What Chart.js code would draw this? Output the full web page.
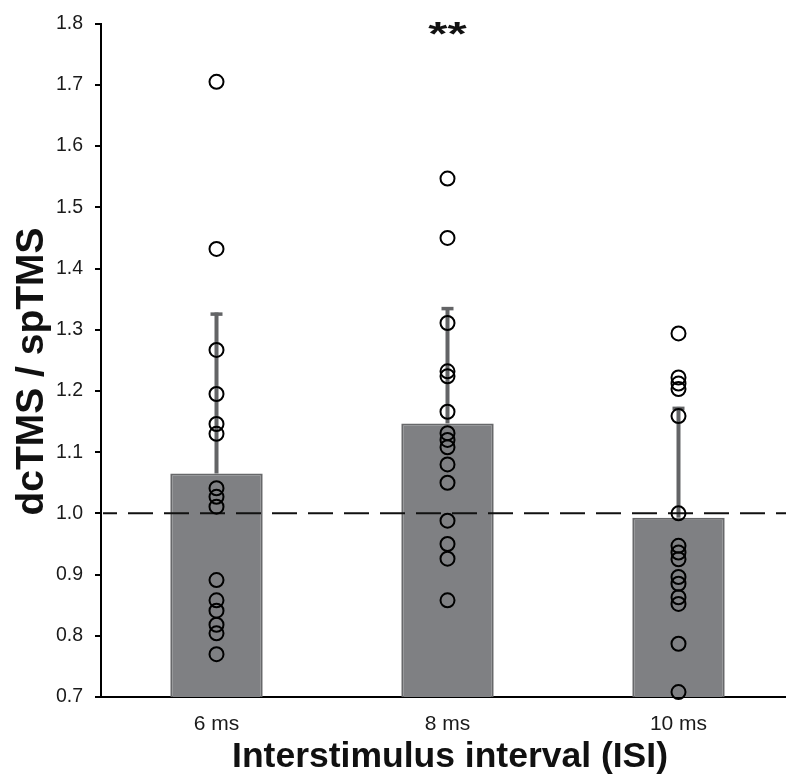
<!DOCTYPE html>
<html>
<head>
<meta charset="utf-8">
<script src="https://cdn.jsdelivr.net/npm/chart.js@4/dist/chart.umd.min.js"></script>
<style>
html,body{margin:0;padding:0;background:#fff;overflow:hidden;}
#wrap{width:794px;height:776px;}
</style>
</head>
<body>
<div id="wrap"><canvas id="c" width="794" height="776"></canvas></div>
<script>
// ---- data ----
const categories = ['6 ms', '8 ms', '10 ms'];
const means = [1.065, 1.147, 0.993];
const sdUpper = [0.263, 0.190, 0.181];
const points6 = [1.705, 1.432, 1.267, 1.195, 1.146, 1.130, 1.041, 1.027, 1.011, 0.891, 0.858, 0.841, 0.818, 0.804, 0.770];
const points8 = [1.547, 1.450, 1.311, 1.232, 1.224, 1.166, 1.131, 1.120, 1.108, 1.080, 1.050, 0.988, 0.950, 0.926, 0.858];
const points10 = [1.294, 1.222, 1.212, 1.203, 1.159, 1.000, 0.947, 0.936, 0.925, 0.896, 0.885, 0.863, 0.852, 0.787, 0.708];
const yTicks = [0.7, 0.8, 0.9, 1.0, 1.1, 1.2, 1.3, 1.4, 1.5, 1.6, 1.7, 1.8];
const referenceLine = 1.0;
const significance = '**';
const sigCategory = '8 ms';
const yTitle = 'dcTMS / spTMS';
const xTitle = 'Interstimulus interval (ISI)';

const scatterData = [];
[points6, points8, points10].forEach((arr, i) => {
  arr.forEach(v => scatterData.push({x: categories[i], y: v}));
});

const overlay = {
  id: 'overlay',
  afterDatasetDraw(chart, args) {
    if (args.index !== 0) return;
    const ctx = chart.ctx;
    const xs = chart.scales.x, ys = chart.scales.y;
    const ca = chart.chartArea;
    ctx.save();
    // error bars
    ctx.strokeStyle = '#636466';
    means.forEach((m, i) => {
      const x = xs.getPixelForValue(i);
      const y0 = ys.getPixelForValue(m);
      const y1 = ys.getPixelForValue(m + sdUpper[i]);
      ctx.lineWidth = 4;
      ctx.beginPath();
      ctx.moveTo(x, y0);
      ctx.lineTo(x, y1);
      ctx.stroke();
      ctx.lineWidth = 3.5;
      ctx.beginPath();
      ctx.moveTo(x - 6, y1 + 1.5);
      ctx.lineTo(x + 6, y1 + 1.5);
      ctx.stroke();
    });
    // dashed reference line
    const yr = ys.getPixelForValue(referenceLine);
    ctx.strokeStyle = '#111';
    ctx.lineWidth = 2;
    ctx.setLineDash([25, 11]);
    ctx.lineDashOffset = 11;
    ctx.beginPath();
    ctx.moveTo(ca.left + 2, yr);
    ctx.lineTo(chart.width, yr);
    ctx.stroke();
    ctx.restore();
  },
  afterDraw(chart) {
    const ctx = chart.ctx;
    const xs = chart.scales.x;
    ctx.save();
    ctx.fillStyle = '#111';
    ctx.textAlign = 'center';
    ctx.textBaseline = 'alphabetic';
    // significance
    ctx.save();
    ctx.translate(xs.getPixelForValue(categories.indexOf(sigCategory)), 45);
    ctx.scale(1.12, 0.74);
    ctx.font = 'bold 44px "Liberation Sans", Arial, sans-serif';
    ctx.fillText(significance, 0, 0);
    ctx.restore();
    // x title
    ctx.font = 'bold 35.5px "Liberation Sans", Arial, sans-serif';
    ctx.fillText(xTitle, 450, 767);
    // y title
    ctx.translate(42.5, 371.5);
    ctx.rotate(-Math.PI / 2);
    ctx.font = 'bold 39px "Liberation Sans", Arial, sans-serif';
    ctx.fillText(yTitle, 0, 0);
    ctx.restore();
  }
};

new Chart(document.getElementById('c'), {
  type: 'bar',
  data: {
    labels: categories,
    datasets: [
      {
        type: 'bar',
        data: means,
        backgroundColor: '#7f8083',
        borderColor: '#67686a',
        borderWidth: 2,
        borderSkipped: false,
        categoryPercentage: 1.0,
        barPercentage: 0.4,
        order: 2
      },
      {
        type: 'line',
        data: scatterData,
        showLine: false,
        clip: false,
        pointRadius: 7,
        pointHoverRadius: 7,
        pointBorderWidth: 2,
        pointBorderColor: '#000',
        pointBackgroundColor: 'rgba(0,0,0,0)',
        order: 1
      }
    ]
  },
  options: {
    responsive: false,
    animation: false,
    events: [],
    layout: {autoPadding: false, padding: {top: 22, right: 0, left: 0, bottom: 0}},
    plugins: {legend: {display: false}, tooltip: {enabled: false}},
    scales: {
      x: {
        type: 'category',
        offset: true,
        grid: {display: true, drawOnChartArea: false, drawTicks: false},
        border: {display: true, color: '#000', width: 2},
        ticks: {
          color: '#1a1a1a',
          padding: 15,
          font: {family: '"Liberation Sans", Arial, sans-serif', size: 21}
        },
        afterFit(scale) { scale.height = 79; scale.paddingLeft = 0; scale.paddingRight = 0; }
      },
      y: {
        min: 0.7,
        max: 1.8,
        afterBuildTicks(scale) { scale.ticks = yTicks.map(v => ({value: v})); },
        grid: {drawOnChartArea: false, drawTicks: true, tickLength: 6, color: '#000', lineWidth: 2},
        border: {display: true, color: '#000', width: 2},
        ticks: {
          color: '#1a1a1a',
          padding: 12,
          font: {family: '"Liberation Sans", Arial, sans-serif', size: 19.5},
          callback: v => Number(v).toFixed(1)
        },
        afterFit(scale) { scale.width = 101; }
      }
    }
  },
  plugins: [overlay]
});
</script>
</body>
</html>
